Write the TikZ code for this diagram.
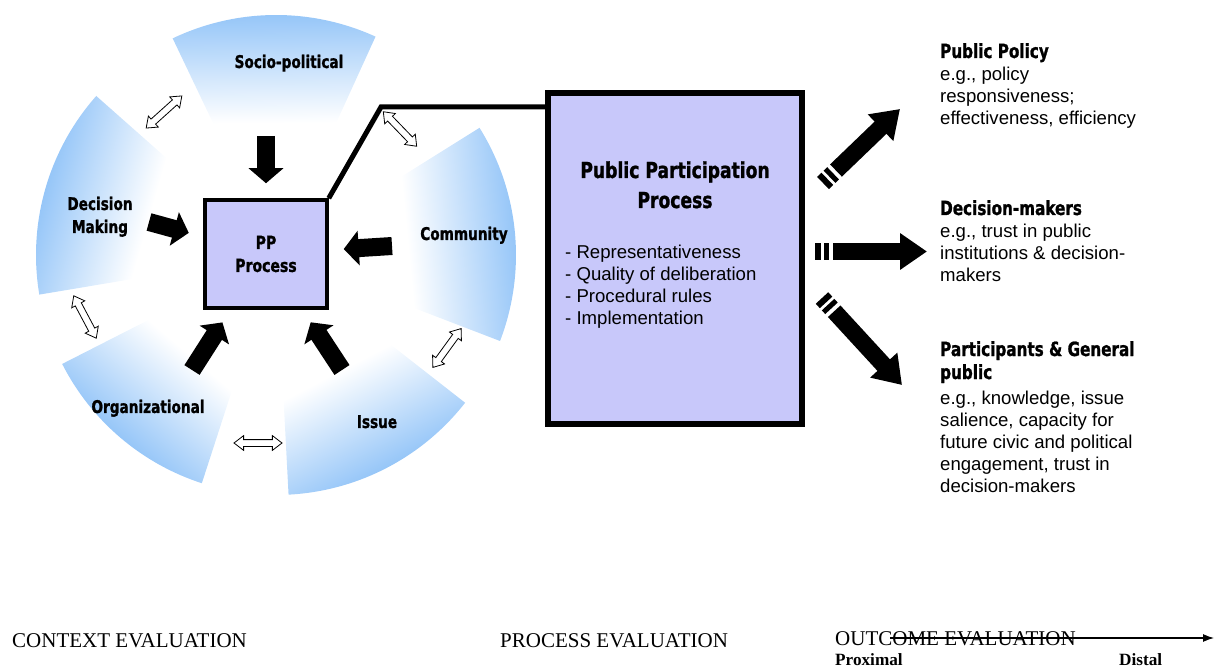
\documentclass[tikz,border=0pt]{standalone}
\usepackage{fontspec}
\setmainfont{Liberation Sans}
\newfontfamily\impactfont{DejaVu Sans}[FakeStretch=0.78, FakeBold=1.2]
\newfontfamily\timesfont{Liberation Serif}
\usetikzlibrary{arrows.meta}
\usetikzlibrary{shapes.arrows}
\definecolor{ringblue}{RGB}{150,198,248}
\definecolor{boxfill}{RGB}{200,200,250}
\tikzset{seglabel/.style={anchor=base, align=center, inner sep=0pt, font=\impactfont\bfseries\fontsize{17.5}{23}\selectfont}}
\tikzset{ppbox/.style={draw, line width=3.5pt, fill=boxfill, align=center, font=\impactfont\bfseries\fontsize{18}{23}\selectfont}}
\tikzset{push/.style={line width=18pt, -{Triangle[length=15pt, width=34pt]}, shorten >=15pt}}
\tikzset{twoway/.style={double arrow, draw, fill=white, thick, inner xsep=0pt, inner ysep=3pt, minimum height=48pt, double arrow head extend=4pt, double arrow tip angle=75}}
\tikzset{outarrow/.style={line width=17pt, -{Triangle[length=27pt, width=35pt]}, dash pattern=on 6pt off 3pt on 5pt off 4pt on 400pt off 1pt}}
\tikzset{outhead/.style={anchor=base west, align=left, inner sep=0pt, font=\impactfont\bfseries\fontsize{19.5}{23}\selectfont}}
\tikzset{outbody/.style={anchor=base west, align=left, inner sep=0pt, font=\fontsize{18.6}{22}\selectfont}}
\tikzset{evaltext/.style={anchor=base west, inner sep=0pt, font=\timesfont\fontsize{21}{24}\selectfont}}
\tikzset{stage/.style={anchor=base west, inner sep=0pt, font=\timesfont\bfseries\fontsize{17.2}{20}\selectfont}}

\begin{document}
\begin{tikzpicture}[x=1pt,y=-1pt]
  \useasboundingbox (0,0) rectangle (1216,668);
  \foreach \ang/\half in {
    90.5/25,
    164/25.5,
    229.5/22.5,
    -62.5/24.5,
    5.5/26.5%
  } {
    \begin{scope}[transform canvas={shift={(276,255)}, rotate=\ang}]
      \clip (-\half:126) -- (-\half:240) arc[start angle=-\half, end angle=\half, radius=240]
        -- (\half:126) arc[start angle=\half, end angle=-\half, radius=126] -- cycle;
      \shade[left color=white, right color=ringblue] (132,-130) rectangle (240,130);
    \end{scope}
  }
  \foreach \x/\y/\lab/\txt in {
    289/68/socio/Socio-political,
    100/233/decision/{Decision\\Making},
    464/240/community/Community,
    148/413/org/Organizational,
    377/428/issue/Issue%
  } {
    \node[seglabel] (\lab) at (\x, \y) {\txt};
  }
  \foreach \x/\y/\r/\lab in {
    164/112/42/sw1,
    85/317/-62/sw2,
    258/443/0/sw3,
    447/348/54/sw4,
    400/129/-46/sw5%
  } {
    \node[twoway, rotate=\r] (\lab) at (\x, \y) {};
  }
  \node[ppbox, minimum width=122pt, minimum height=108pt] (pp) at (266,254) {PP\\Process};
  \foreach \lab/\x/\y in {
    socio/266/136,
    decision/149/222,
    community/392/246,
    org/192/370,
    issue/342/370%
  } {
    \coordinate (\lab-tail) at (\x, \y);
    \draw[push] (\lab-tail) -- (pp);
  }
  \node[draw, line width=6pt, fill=boxfill, inner sep=0pt, minimum width=254pt, minimum height=331pt] (ppp) at (675,258.5) {};
  \coordinate (bend) at (381,107);
  \draw[line width=5pt] (pp.north east) -- (bend) -- (bend -| ppp.west);
  \node[seglabel, font=\impactfont\bfseries\fontsize{22}{30}\selectfont] (ppp-title) at (675,208) {Public Participation\\Process};
  \node[outbody] (ppp-list) at (565,325) {- Representativeness\\- Quality of deliberation\\- Procedural rules\\- Implementation};
  \foreach \lab/\x/\y/\u/\v in {
    policy/823/183/900/109,
    makers/815/251.5/927/251.5,
    public/822/298/902/385%
  } {
    \coordinate (\lab-tail) at (\x, \y);
    \coordinate (\lab-tip) at (\u, \v);
    \draw[outarrow] (\lab-tail) -- (\lab-tip);
  }
  \node[outhead] (policy) at (940,58) {Public Policy};
  \node[outbody] (policy-text) at (940,125) {e.g., policy\\responsiveness;\\effectiveness, efficiency};
  \node[outhead] (makers) at (940,215) {Decision-makers};
  \node[outbody] (makers-text) at (940,282) {e.g., trust in public\\institutions \& decision-\\makers};
  \node[outhead] (public) at (940,379) {Participants \& General\\public};
  \node[outbody] (public-text) at (940,492) {e.g., knowledge, issue\\salience, capacity for\\future civic and political\\engagement, trust in\\decision-makers};
  \node[evaltext] (context) at (12,647) {CONTEXT EVALUATION};
  \node[evaltext] (process) at (500,647) {PROCESS EVALUATION};
  \node[evaltext] (outcome) at (835,645) {OUTCOME EVALUATION};
  \coordinate (axis-start) at (890,638);
  \coordinate (axis-end) at (1214,638);
  \draw[line width=1.2pt, -{Latex[length=11pt, width=8pt]}] (axis-start) -- (axis-end);
  \node[stage] (proximal) at (835,665) {Proximal};
  \node[stage] (distal) at (1119,665) {Distal};
\end{tikzpicture}
\end{document}
